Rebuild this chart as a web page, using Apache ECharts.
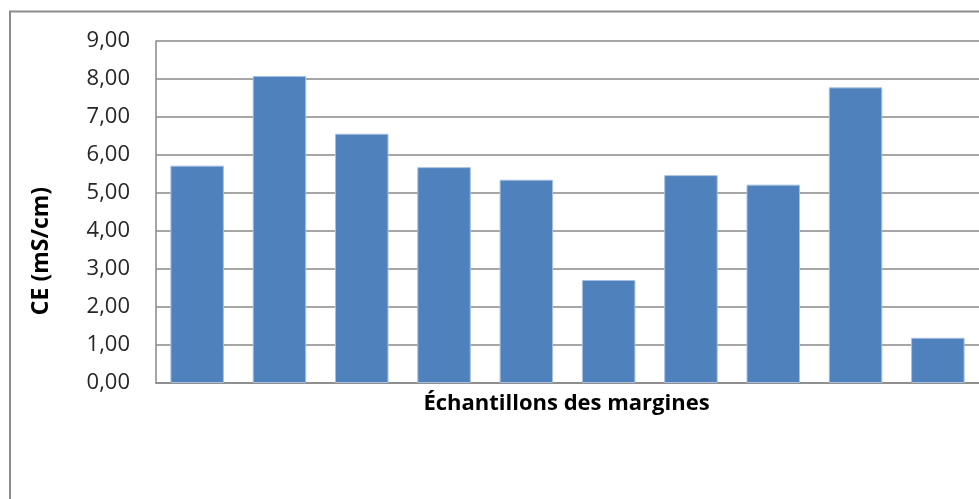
<!DOCTYPE html>
<html>
<head>
<meta charset="utf-8">
<script src="https://cdn.jsdelivr.net/npm/echarts@6/dist/echarts.min.js"></script>
<style>
html,body{margin:0;padding:0;background:#fff;}
#chart{width:979px;height:499px;}
</style>
</head>
<body>
<div id="chart"></div>
<script>
const categories = ['M1','M2','M3','M4','M5','M6','M7','M8','M9','M10'];
const ceValues = [5.72, 8.08, 6.56, 5.68, 5.35, 2.71, 5.47, 5.22, 7.78, 1.19];
const yAxisTitle = 'CE (mS/cm)';
const xAxisTitle = 'Échantillons des margines';

const chart = echarts.init(document.getElementById('chart'), null, {renderer:'canvas'});
const fontFam = '"Open Sans", "DejaVu Sans", sans-serif';
chart.setOption({
  backgroundColor:'#fff',
  animation:false,
  graphic:[{
    type:'rect',
    shape:{x:10,y:11.5,width:1000,height:520},
    style:{fill:'none',stroke:'#8c8c8c',lineWidth:2},
    silent:true
  }],
  grid:{left:156,top:41,width:828,height:342,containLabel:false},
  xAxis:{
    type:'category',
    data:categories,
    axisLine:{show:true,lineStyle:{color:'#888',width:1.5}},
    axisTick:{show:false},
    axisLabel:{show:false},
    name:xAxisTitle,
    nameLocation:'middle',
    nameGap:10,
    nameTextStyle:{fontFamily:fontFam,fontWeight:'bold',fontSize:22,color:'#000',verticalAlign:'top',padding:[0,2,0,0]}
  },
  yAxis:{
    type:'value',
    min:0,max:9,interval:1,
    axisLine:{show:true,lineStyle:{color:'#888',width:1.5}},
    axisTick:{show:false},
    splitLine:{show:true,lineStyle:{color:'#888',width:1.5}},
    axisLabel:{
      margin:26,
      fontFamily:fontFam,fontSize:22,color:'#262626',
      formatter:function(v){return v.toFixed(2).replace('.',',');}
    },
    name:yAxisTitle,
    nameLocation:'middle',
    nameGap:103,
    nameRotate:90,
    nameTextStyle:{fontFamily:fontFam,fontWeight:'bold',fontSize:23,color:'#000',padding:[0,78,0,0]}
  },
  series:[{
    type:'bar',
    data:ceValues,
    barCategoryGap:'35%',
    itemStyle:{color:'#4f81bd',borderColor:'#a7bfe0',borderWidth:1}
  }]
});
</script>
</body>
</html>
